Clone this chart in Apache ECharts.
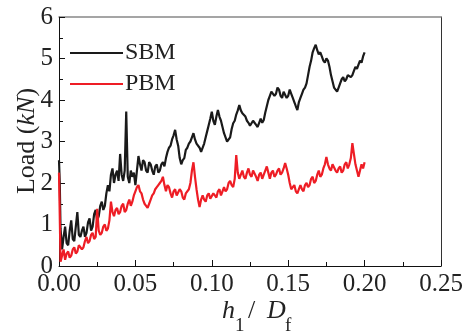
<!DOCTYPE html>
<html>
<head>
<meta charset="utf-8">
<script src="https://cdn.jsdelivr.net/npm/echarts@6/dist/echarts.min.js"></script>
<style>
  html, body { margin: 0; padding: 0; background: #fff; }
  #chart { width: 472px; height: 336px; }
</style>
</head>
<body>
<div id="chart"></div>
<script>
// Normalised penetration h1/Df at which the load was sampled
const h1Df = [
  0, 0.0005,
  0.001, 0.002, 0.003, 0.004, 0.005, 0.006, 0.007, 0.008, 0.009, 0.010,
  0.011, 0.012, 0.013, 0.014, 0.015, 0.016, 0.017, 0.018, 0.019, 0.020,
  0.021, 0.022, 0.023, 0.024, 0.025, 0.026, 0.027, 0.028, 0.029, 0.030,
  0.031, 0.032, 0.033, 0.034, 0.035, 0.036, 0.037, 0.038, 0.039, 0.040,
  0.041, 0.042, 0.043, 0.044, 0.045, 0.046, 0.047, 0.048, 0.049, 0.050,
  0.051, 0.052, 0.053, 0.054, 0.055, 0.056, 0.057, 0.058, 0.059, 0.060,
  0.061, 0.062, 0.063, 0.064, 0.065, 0.066, 0.067, 0.068, 0.069, 0.070,
  0.071, 0.072, 0.073, 0.074, 0.075, 0.076, 0.077, 0.078, 0.079, 0.080,
  0.081, 0.082, 0.083, 0.084, 0.085, 0.086, 0.087, 0.088, 0.089, 0.090,
  0.091, 0.092, 0.093, 0.094, 0.095, 0.096, 0.097, 0.098, 0.099, 0.100,
  0.101, 0.102, 0.103, 0.104, 0.105, 0.106, 0.107, 0.108, 0.109, 0.110,
  0.111, 0.112, 0.113, 0.114, 0.115, 0.116, 0.117, 0.118, 0.119, 0.120,
  0.121, 0.122, 0.123, 0.124, 0.125, 0.126, 0.127, 0.128, 0.129, 0.130,
  0.131, 0.132, 0.133, 0.134, 0.135, 0.136, 0.137, 0.138, 0.139, 0.140,
  0.141, 0.142, 0.143, 0.144, 0.145, 0.146, 0.147, 0.148, 0.149, 0.150,
  0.151, 0.152, 0.153, 0.154, 0.155, 0.156, 0.157, 0.158, 0.159, 0.160,
  0.161, 0.162, 0.163, 0.164, 0.165, 0.166, 0.167, 0.168, 0.169, 0.170,
  0.171, 0.172, 0.173, 0.174, 0.175, 0.176, 0.177, 0.178, 0.179, 0.180,
  0.181, 0.182, 0.183, 0.184, 0.185, 0.186, 0.187, 0.188, 0.189, 0.190,
  0.191, 0.192, 0.193, 0.194, 0.195, 0.196, 0.197, 0.198, 0.199, 0.200
];

// Load (kN), SBM
const sbmLoad = [
  2.55, 2.0,
  0.9, 0.4, 0.7, 0.95, 0.55, 0.5, 0.85, 1.1, 0.65, 0.6,
  0.95, 1.3, 0.75, 0.7, 0.85, 0.95, 0.7, 0.8, 1.05, 1.15,
  0.85, 0.95, 1.25, 1.35, 1.1, 1.2, 1.45, 1.55, 1.35, 1.45,
  1.75, 1.95, 1.8, 2.2, 2.35, 2.0, 2.2, 2.3, 2.05, 2.7,
  2.2, 2.05, 2.3, 3.72, 2.15, 2.0, 2.3, 2.15, 2.25, 1.95,
  2.3, 2.65, 2.45, 2.3, 2.55, 2.5, 2.3, 2.25, 2.5, 2.45,
  2.3, 2.2, 2.4, 2.45, 2.25, 2.3, 2.45, 2.5, 2.4, 2.6,
  2.75, 2.85, 2.9, 3.05, 3.15, 3.28, 3.05, 2.9, 2.6, 2.45,
  2.55, 2.6, 2.8, 2.85, 2.95, 3.0, 3.1, 3.2, 3.05, 2.95,
  2.95, 2.85, 2.75, 2.75, 2.95, 3.1, 3.25, 3.4, 3.55, 3.72,
  3.5, 3.4, 3.6, 3.76, 3.6, 3.5, 3.35, 3.2, 3.1, 3.0,
  2.98, 3.1, 3.3, 3.44, 3.5, 3.65, 3.75, 3.88, 3.75, 3.68,
  3.7, 3.6, 3.5, 3.45, 3.38, 3.4, 3.5, 3.5, 3.4, 3.35,
  3.45, 3.55, 3.45, 3.52, 3.7, 3.85, 4.0, 4.1, 4.2, 4.24,
  4.1, 4.15, 4.3, 4.25, 4.1, 4.05, 4.2, 4.2, 4.05, 4.1,
  4.25, 4.15, 4.05, 3.95, 3.85, 3.76, 3.95, 4.05, 4.15, 4.25,
  4.3, 4.4, 4.6, 4.8, 4.95, 5.15, 5.25, 5.33, 5.2, 5.1,
  5.15, 5.05, 4.95, 4.9, 5.0, 4.95, 4.8, 4.6, 4.45, 4.3,
  4.25, 4.2, 4.3, 4.4, 4.5, 4.55, 4.45, 4.5, 4.6, 4.62,
  4.55, 4.6, 4.7, 4.8, 4.75, 4.85, 4.95, 4.9, 5.05, 5.15
];

// Load (kN), PBM
const pbmLoad = [
  2.25, 1.2,
  0.1, 0.25, 0.4, 0.15, 0.3, 0.35, 0.2, 0.25, 0.4, 0.45,
  0.3, 0.35, 0.5, 0.5, 0.4, 0.45, 0.6, 0.7, 0.55, 0.6,
  0.75, 0.8, 0.65, 0.7, 1.38, 0.85, 0.75, 0.8, 0.95, 1.0,
  0.85, 0.9, 1.1, 1.55, 1.3, 1.2, 1.35, 1.4, 1.25, 1.3,
  1.45, 1.5, 1.3, 1.35, 1.5, 1.6, 1.45, 1.55, 1.7, 1.8,
  1.9, 1.95, 1.8, 1.75, 1.6, 1.5, 1.45, 1.4, 1.5, 1.6,
  1.7, 1.75, 1.85, 1.9, 1.95, 2.0, 2.05, 2.15, 1.95, 1.8,
  1.95, 1.9, 1.75, 1.65, 1.8, 1.85, 1.7, 1.7, 1.85, 1.8,
  1.65, 1.6, 1.75, 1.75, 1.85, 2.0, 2.3, 2.5, 2.15, 1.85,
  1.6, 1.42, 1.6, 1.7, 1.6, 1.55, 1.7, 1.75, 1.62, 1.6,
  1.75, 1.7, 1.65, 1.8, 1.85, 1.7, 1.8, 1.9, 1.8, 1.85,
  2.0, 2.05, 1.95, 1.9, 2.1, 2.67, 2.25, 2.1, 2.2, 2.3,
  2.15, 2.1, 2.25, 2.35, 2.2, 2.15, 2.3, 2.3, 2.15, 2.05,
  2.2, 2.25, 2.1, 2.2, 2.3, 2.4, 2.25, 2.1, 2.25, 2.3,
  2.15, 2.2, 2.3, 2.35, 2.2, 2.25, 2.35, 2.48, 2.35, 2.2,
  2.0, 1.85, 1.9, 1.95, 1.8, 1.75, 1.85, 1.95, 1.85, 1.8,
  1.95, 2.0, 1.9, 1.95, 2.1, 2.15, 2.0, 2.05, 2.2, 2.3,
  2.15, 2.2, 2.35, 2.45, 2.63, 2.45, 2.35, 2.3, 2.45, 2.45,
  2.3, 2.25, 2.35, 2.4, 2.25, 2.3, 2.45, 2.5, 2.35, 2.45,
  2.6, 2.96, 2.7, 2.45, 2.3, 2.15, 2.3, 2.45, 2.35, 2.5
];

const seriesNames = ['SBM', 'PBM'];
const xTicks = { min: 0, max: 0.25, step: 0.05 };
const yTicks = { min: 0, max: 6, step: 1 };

const FONT = 'Liberation Serif';
const INK = '#222';
const pairs = (ys) => ys.map((y, i) => [h1Df[i], y]);

const chart = echarts.init(document.getElementById('chart'), null, { renderer: 'canvas' });

const tickStyle = { show: true, inside: true, length: 6, lineStyle: { color: '#111', width: 1 } };
const minorStyle = { show: true, splitNumber: 2, length: 4, lineStyle: { color: '#111', width: 1 } };

// x-axis title: italic h with subscript 1, slash, italic D with subscript f
const xTitle = [
  { text: 'h', left: 222, top: 311, size: 26, italic: true },
  { text: '1', left: 235, top: 326, size: 19, italic: false },
  { text: '/', left: 248, top: 311, size: 26, italic: false },
  { text: 'D', left: 267, top: 311, size: 26, italic: true },
  { text: 'f', left: 285, top: 326, size: 19, italic: false }
];

const titleGraphics = xTitle.map((t) => ({
  type: 'text',
  x: t.left,
  y: t.top,
  style: {
    text: t.text,
    fontFamily: FONT,
    fontSize: t.size,
    fontStyle: t.italic ? 'italic' : 'normal',
    fill: INK,
    align: 'left',
    verticalAlign: 'middle'
  }
}));

// y-axis title, rotated, with italic kN
titleGraphics.push({
  type: 'text',
  x: 27,
  y: 141,
  rotation: Math.PI / 2,
  style: {
    text: '{n|Load (}{k|kN}{n|)}',
    align: 'center',
    verticalAlign: 'middle',
    rich: {
      n: { fontFamily: FONT, fontSize: 26, fill: INK },
      k: { fontFamily: FONT, fontSize: 26, fontStyle: 'italic', fill: INK }
    }
  }
});

chart.setOption({
  animation: false,
  backgroundColor: '#fff',
  grid: { left: 59, right: 31, top: 17, bottom: 70, containLabel: false, outerBoundsMode: 'none' },
  legend: {
    data: seriesNames,
    orient: 'vertical',
    left: 65,
    top: 36,
    itemWidth: 53,
    itemHeight: 2,
    itemGap: 7,
    icon: 'rect',
    textStyle: { fontFamily: FONT, fontSize: 24, lineHeight: 24, color: INK, padding: [0, 0, 0, -3] }
  },
  graphic: titleGraphics,
  xAxis: [
    {
      type: 'value',
      min: xTicks.min, max: xTicks.max, interval: xTicks.step,
      position: 'bottom',
      axisLine: { show: true, onZero: false, lineStyle: { color: '#111', width: 1 } },
      axisTick: tickStyle,
      minorTick: minorStyle,
      splitLine: { show: false },
      axisLabel: {
        margin: 6, fontFamily: FONT, fontSize: 25, color: INK,
        formatter: (v) => v.toFixed(2)
      }
    },
    {
      type: 'value',
      min: xTicks.min, max: xTicks.max, interval: xTicks.step,
      position: 'top',
      axisLine: { show: true, onZero: false, lineStyle: { color: '#888', width: 1.5 } },
      axisTick: { show: false },
      axisLabel: { show: false },
      splitLine: { show: false }
    }
  ],
  yAxis: [
    {
      type: 'value',
      min: yTicks.min, max: yTicks.max, interval: yTicks.step,
      position: 'left',
      axisLine: { show: true, onZero: false, lineStyle: { color: '#111', width: 1 } },
      axisTick: tickStyle,
      minorTick: minorStyle,
      splitLine: { show: false },
      axisLabel: { margin: 6, fontFamily: FONT, fontSize: 25, color: INK }
    },
    {
      type: 'value',
      min: yTicks.min, max: yTicks.max, interval: yTicks.step,
      position: 'right',
      axisLine: { show: true, onZero: false, lineStyle: { color: '#333', width: 1 } },
      axisTick: { show: false },
      axisLabel: { show: false },
      splitLine: { show: false }
    }
  ],
  series: [
    {
      name: seriesNames[0],
      type: 'line',
      data: pairs(sbmLoad),
      showSymbol: false,
      symbol: 'none',
      color: '#1a1a1a',
      lineStyle: { color: '#1a1a1a', width: 2.2 },
      z: 2
    },
    {
      name: seriesNames[1],
      type: 'line',
      data: pairs(pbmLoad),
      showSymbol: false,
      symbol: 'none',
      color: '#ee1d25',
      lineStyle: { color: '#ee1d25', width: 2.2 },
      z: 3
    }
  ]
});
</script>
</body>
</html>
